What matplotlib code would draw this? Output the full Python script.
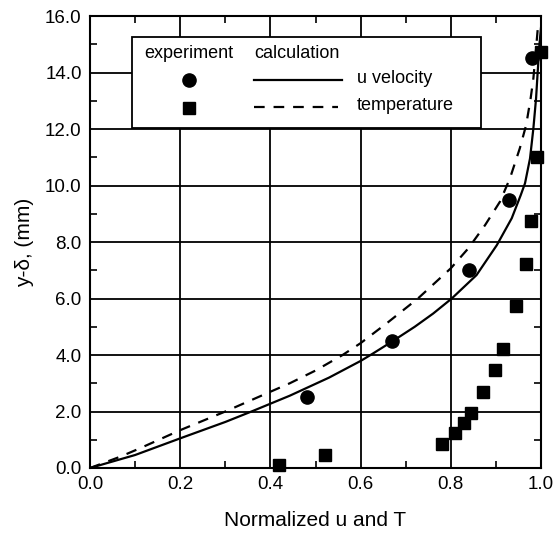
import matplotlib.pyplot as plt
from matplotlib.patches import Rectangle
from matplotlib.lines import Line2D
from matplotlib.ticker import MultipleLocator

plt.rcParams['font.family'] = ['Liberation Sans', 'DejaVu Sans']

# measured profiles
u_exp_x = [0.48, 0.67, 0.84, 0.93, 0.98]
u_exp_y = [2.5, 4.5, 7.0, 9.5, 14.5]
t_exp_x = [0.42, 0.52, 0.78, 0.81, 0.83, 0.845, 0.872, 0.897, 0.916, 0.945, 0.967, 0.978, 0.992, 1.0]
t_exp_y = [0.1, 0.45, 0.85, 1.23, 1.6, 1.96, 2.7, 3.48, 4.21, 5.73, 7.23, 8.74, 11.0, 14.72]

# calculated profiles
u_calc_x = [0.0, 0.1, 0.2, 0.3, 0.358, 0.443, 0.53, 0.6, 0.625, 0.67, 0.72, 0.761, 0.802,
            0.857, 0.902, 0.935, 0.955, 0.9645, 0.9756, 0.983, 0.989, 0.9926, 0.9965, 1.0]
u_calc_y = [0.0, 0.46, 1.05, 1.63, 2.0, 2.56, 3.2, 3.79, 4.03, 4.48, 5.0, 5.47, 6.0,
            6.83, 7.89, 8.84, 9.66, 10.08, 10.96, 12.02, 13.09, 14.03, 15.0, 15.6]
t_calc_x = [0.0, 0.067, 0.111, 0.2, 0.3, 0.4, 0.443, 0.5, 0.56, 0.6, 0.66, 0.727, 0.8, 0.839,
            0.876, 0.909, 0.931, 0.953, 0.967, 0.977, 0.983, 0.989, 0.993]
t_calc_y = [0.0, 0.4, 0.7, 1.34, 2.0, 2.7, 3.0, 3.45, 4.0, 4.42, 5.15, 6.0, 7.07, 7.78,
            8.6, 9.43, 10.25, 11.32, 12.14, 13.09, 13.79, 14.86, 15.6]

fig = plt.figure(figsize=(5.54, 5.34), dpi=100)
ax = fig.add_axes([0.1625, 0.1236, 0.8141, 0.8464])

dash = (0, (4.8, 4.0))
ax.plot(u_calc_x, u_calc_y, color='black', lw=1.6, zorder=3)
ax.plot(t_calc_x, t_calc_y, color='black', lw=1.6, linestyle=dash, zorder=3)
ax.plot(u_exp_x, u_exp_y, 'o', color='black', ms=9.5, zorder=4, clip_on=False)
ax.plot(t_exp_x, t_exp_y, 's', color='black', ms=9, zorder=4, clip_on=False)

ax.set_xlim(0, 1.0)
ax.set_ylim(0, 16)
ax.xaxis.set_major_locator(MultipleLocator(0.2))
ax.xaxis.set_minor_locator(MultipleLocator(0.1))
ax.yaxis.set_major_locator(MultipleLocator(2))
ax.yaxis.set_minor_locator(MultipleLocator(1))
ax.xaxis.set_major_formatter(lambda v, p: f"{v:.1f}")
ax.yaxis.set_major_formatter(lambda v, p: f"{v:.1f}")
ax.tick_params(which='both', direction='in', top=True, right=True, labelsize=13.5, width=1.2, color='black')
ax.tick_params(which='major', length=0, pad=6)
ax.tick_params(which='minor', length=5)
ax.grid(True, which='major', color='black', lw=1.3)
for s in ax.spines.values():
    s.set_linewidth(1.5)

ax.set_xlabel("Normalized u and T", fontsize=15, labelpad=13)
ax.set_ylabel("y-δ, (mm)", fontsize=15, labelpad=8)

# hand-built legend table
tr = ax.transAxes
ax.add_patch(Rectangle((0.0931, 0.752), 0.774, 0.2015, transform=tr, facecolor='white',
                       edgecolor='black', lw=1.3, zorder=5))
ax.text(0.1197, 0.918, "experiment", transform=tr, fontsize=13, va='center', zorder=6)
ax.text(0.3636, 0.918, "calculation", transform=tr, fontsize=13, va='center', zorder=6)
ax.add_line(Line2D([0.2195], [0.858], marker='o', color='black', ms=9.5, transform=tr, zorder=6))
ax.add_line(Line2D([0.2195], [0.796], marker='s', color='black', ms=9, transform=tr, zorder=6))
ax.add_line(Line2D([0.3636, 0.5588], [0.858, 0.858], color='black', lw=1.6, transform=tr, zorder=6))
ax.add_line(Line2D([0.3636, 0.5500], [0.799, 0.799], color='black', lw=1.6, linestyle=dash,
                   transform=tr, zorder=6))
ax.text(0.592, 0.861, "u velocity", transform=tr, fontsize=13, va='center', zorder=6)
ax.text(0.592, 0.801, "temperature", transform=tr, fontsize=13, va='center', zorder=6)

fig.savefig("out.png", dpi=100)
